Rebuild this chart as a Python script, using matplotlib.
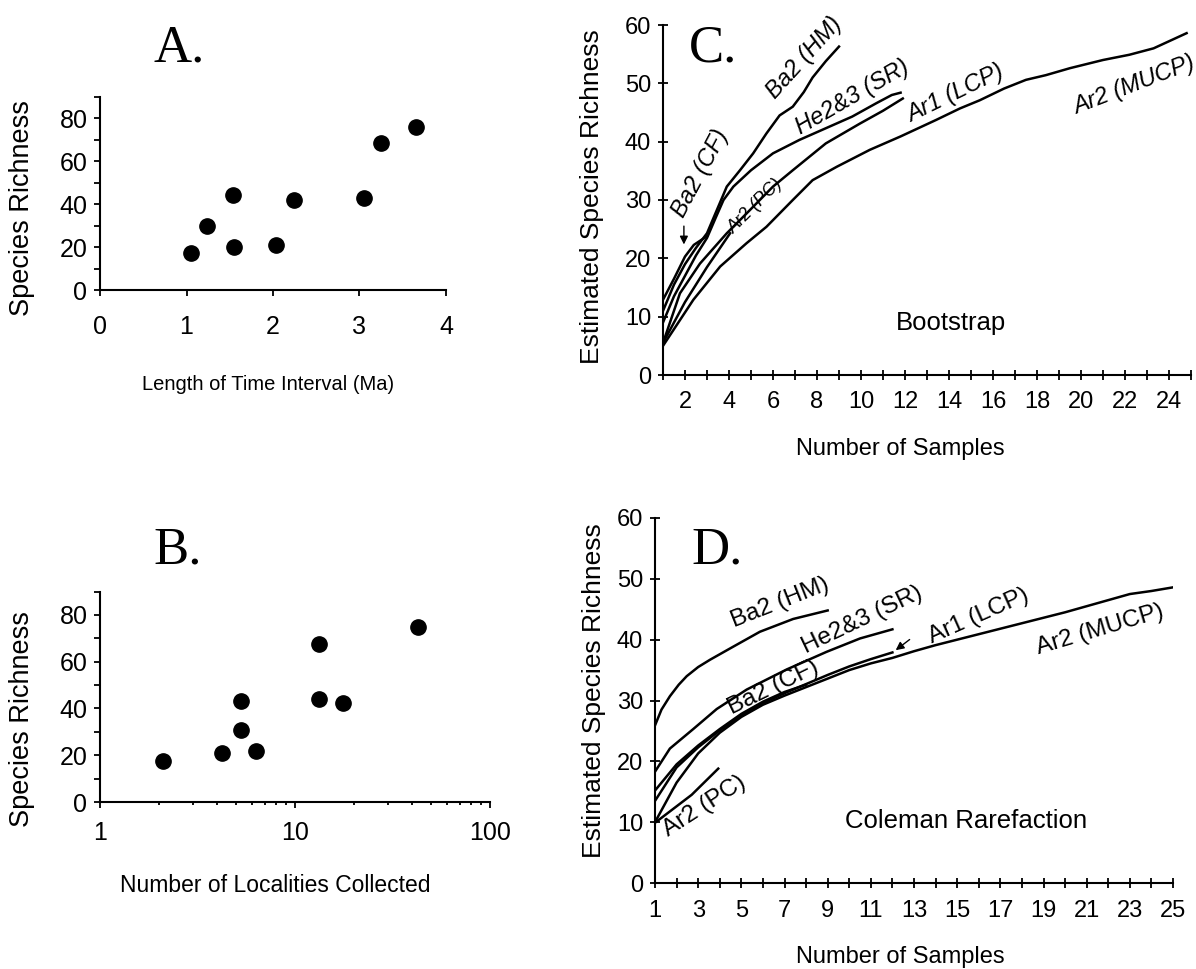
import numpy as np
import matplotlib
matplotlib.use("Agg")
import matplotlib.pyplot as plt
from matplotlib.ticker import MultipleLocator, NullFormatter

plt.rcParams['font.family'] = ['Liberation Sans', 'DejaVu Sans']

# ---- data ----
# A: species richness vs. length of time interval
a_interval = [1.05, 1.24, 1.54, 1.55, 2.04, 2.24, 3.05, 3.25, 3.65]
a_richness = [17, 30, 44, 20, 21, 42, 43, 68.5, 76]

# B: species richness vs. number of localities
b_localities = [2.11, 4.24, 5.28, 5.28, 6.31, 13.2, 13.3, 17.7, 42.6]
b_richness = [17.6, 20.9, 43, 30.6, 21.9, 44, 67.6, 42.3, 75]

# C: bootstrap curves
c_cf_x = [1, 1.5, 2, 2.4, 2.8, 3.0]
c_cf_y = [12.9, 16.5, 20.3, 22.3, 23.3, 23.8]
c_hm_x = [1, 1.5, 2, 2.5, 3, 3.45, 3.9, 4.5, 5.1, 5.7, 6.3, 6.9, 7.4, 7.8, 8.4, 9.0]
c_hm_y = [11.0, 15.5, 19.0, 21.8, 24.3, 28.3, 32.3, 35.1, 38.0, 41.4, 44.5, 46.0, 48.5, 51.0, 53.8, 56.3]
c_sr_x = [1, 1.5, 2, 2.5, 3, 3.4, 3.75, 4.2, 5, 6, 7.2, 8.4, 9.6, 10.7, 11.4, 11.8]
c_sr_y = [9.0, 13.5, 17.0, 20.5, 23.5, 27.0, 30.0, 32.3, 35.1, 38.0, 40.3, 42.3, 44.3, 46.6, 48.0, 48.4]
c_lcp_x = [1, 1.77, 2.68, 3.9, 4.8, 6.0, 6.9, 8.4, 9.95, 11.0, 11.9]
c_lcp_y = [5.5, 14.0, 19.1, 24.3, 27.7, 32.3, 35.1, 39.7, 43.1, 45.3, 47.4]
c_mucp_x = [1, 2.38, 3.6, 4.8, 5.7, 6.9, 7.8, 8.9, 10.4, 11.8, 13.4, 14.5, 15.4, 16.5,
            17.5, 18.4, 19.5, 21.0, 22.2, 23.3, 24.8]
c_mucp_y = [5.0, 12.9, 18.6, 22.6, 25.4, 30.0, 33.4, 35.7, 38.6, 40.9, 43.7, 45.7, 47.1, 49.1,
            50.6, 51.4, 52.6, 54.0, 54.9, 56.0, 58.6]
c_pc_x = [1, 2, 3, 4.05]
c_pc_y = [5.5, 12.5, 18.5, 24.3]

# D: Coleman rarefaction curves
d_hm_x = [1, 1.3, 1.69, 2.1, 2.47, 3, 3.55, 4.6, 5.86, 7.4, 9.0]
d_hm_y = [25.9, 28.5, 30.7, 32.6, 34.0, 35.5, 36.7, 38.8, 41.3, 43.4, 44.8]
d_sr_x = [1, 1.69, 2.77, 3.86, 5.25, 7.1, 8.95, 10.5, 12]
d_sr_y = [18.3, 22.1, 25.3, 28.6, 31.8, 35.1, 38.0, 40.2, 41.7]
d_cf_x = [1, 2, 3, 4, 5, 6, 7, 8]
d_cf_y = [15.2, 19.5, 22.6, 25.3, 27.8, 29.8, 31.4, 32.6]
d_lcp_x = [1, 2, 3, 4, 5, 6, 7, 8, 9, 10, 11, 12]
d_lcp_y = [13.5, 19.0, 22.3, 25.1, 27.6, 29.6, 31.2, 32.7, 34.2, 35.6, 36.8, 37.9]
d_mucp_x = list(range(1, 26))
d_mucp_y = [10.0, 16.5, 21.3, 24.7, 27.3, 29.3, 30.8, 32.2, 33.6, 35.0, 36.1, 37.0, 38.1,
            39.1, 40.0, 40.9, 41.8, 42.7, 43.6, 44.5, 45.5, 46.5, 47.5, 48.0, 48.6]
d_pc_x = [1, 2.7, 3.93]
d_pc_y = [9.9, 14.5, 18.8]

W, H = 1196, 969


def box(l, t, r, b):
    return [l / W, 1 - b / H, (r - l) / W, (b - t) / H]


def fpos(x, y):
    return x / W, 1 - y / H


fig = plt.figure(figsize=(W / 100, H / 100), dpi=100)

ax_a = fig.add_axes(box(100, 96.7, 446, 290))
ax_b = fig.add_axes(box(100, 591.6, 490, 802))
ax_c = fig.add_axes(box(663, 25, 1191, 375))
ax_d = fig.add_axes(box(655, 518, 1173, 883))

for ax in (ax_a, ax_b, ax_c, ax_d):
    for s in ('top', 'right'):
        ax.spines[s].set_visible(False)
    for s in ('left', 'bottom'):
        ax.spines[s].set_linewidth(1.5)
    ax.patch.set_visible(False)

# ---- A ----
ax_a.plot(a_interval, a_richness, 'o', color='black', ms=11)
ax_a.set_xlim(0, 4)
ax_a.set_ylim(0, 90)
ax_a.set_xticks([0, 1, 2, 3, 4])
ax_a.set_yticks([0, 20, 40, 60, 80])
ax_a.yaxis.set_minor_locator(MultipleLocator(10))
ax_a.tick_params(axis='both', which='both', direction='out', length=4, width=1.3, labelsize=18)
ax_a.tick_params(axis='x', pad=14)
ax_a.tick_params(axis='y', pad=5)

# ---- B ----
ax_b.plot(b_localities, b_richness, 'o', color='black', ms=11)
ax_b.set_xscale('log')
ax_b.set_xlim(1, 100)
ax_b.set_ylim(0, 90)
ax_b.set_xticks([1, 10, 100])
ax_b.set_xticklabels(['1', '10', '100'])
ax_b.xaxis.set_minor_formatter(NullFormatter())
ax_b.set_yticks([0, 20, 40, 60, 80])
ax_b.yaxis.set_minor_locator(MultipleLocator(10))
ax_b.tick_params(axis='both', which='both', direction='out', length=4, width=1.3, labelsize=18)
ax_b.tick_params(axis='x', which='minor', length=2.5)
ax_b.tick_params(axis='x', pad=10)
ax_b.tick_params(axis='y', pad=5)

# ---- C ----
for xs, ys in [(c_cf_x, c_cf_y), (c_hm_x, c_hm_y), (c_sr_x, c_sr_y),
               (c_lcp_x, c_lcp_y), (c_mucp_x, c_mucp_y), (c_pc_x, c_pc_y)]:
    ax_c.plot(xs, ys, color='black', lw=1.8)
ax_c.set_xlim(1, 25)
ax_c.set_ylim(0, 60)
ax_c.set_xticks(range(2, 25, 2))
ax_c.xaxis.set_minor_locator(MultipleLocator(1))
ax_c.set_yticks(range(0, 61, 10))
ax_c.tick_params(axis='both', which='both', direction='inout', length=7, width=1.3, labelsize=17)
ax_c.tick_params(axis='x', pad=8)
ax_c.tick_params(axis='y', pad=5)

c_labels = [
    ("Ba2 (HM)", 7.4, 54.4, 48, 17),
    ("He2&3 (SR)", 9.6, 47.6, 30, 17),
    ("Ar1 (LCP)", 14.3, 48.3, 26, 17),
    ("Ar2 (MUCP)", 22.4, 49.7, 21, 17),
    ("Ba2 (CF)", 2.68, 34.6, 62, 17),
    ("Ar2 (PC)", 5.2, 29.0, 45, 13),
]
for txt, x, y, rot, size in c_labels:
    ax_c.text(x, y, txt, rotation=rot, rotation_mode='anchor', ha='center', va='center',
              fontsize=size, style='italic', clip_on=False)
ax_c.annotate('', xy=(1.95, 21.9), xytext=(1.95, 26.0),
              arrowprops=dict(arrowstyle='-|>', color='black', lw=1, mutation_scale=12))
ax_c.text(14.1, 8.9, "Bootstrap", ha='center', va='center', fontsize=18.5)

# ---- D ----
for xs, ys in [(d_hm_x, d_hm_y), (d_sr_x, d_sr_y), (d_cf_x, d_cf_y),
               (d_lcp_x, d_lcp_y), (d_mucp_x, d_mucp_y), (d_pc_x, d_pc_y)]:
    ax_d.plot(xs, ys, color='black', lw=1.8)
ax_d.set_xlim(1, 25)
ax_d.set_ylim(0, 60)
ax_d.set_xticks(range(1, 26, 2))
ax_d.xaxis.set_minor_locator(MultipleLocator(1))
ax_d.set_yticks(range(0, 61, 10))
ax_d.tick_params(axis='both', which='both', direction='inout', length=7, width=1.3, labelsize=17)
ax_d.tick_params(axis='x', pad=9)
ax_d.tick_params(axis='y', pad=5)

d_labels = [
    ("Ba2 (HM)", 6.79, 46.0, 21.6),
    ("He2&3 (SR)", 10.6, 43.2, 25.5),
    ("Ar1 (LCP)", 16.0, 43.8, 24),
    ("Ar2 (MUCP)", 21.6, 41.7, 16.5),
    ("Ba2 (CF)", 6.5, 32.2, 26),
    ("Ar2 (PC)", 3.3, 12.6, 33),
]
for txt, x, y, rot in d_labels:
    ax_d.text(x, y, txt, rotation=rot, rotation_mode='anchor', ha='center', va='center',
              fontsize=17.5, clip_on=False)
ax_d.annotate('', xy=(12.05, 38.0), xytext=(12.9, 40.3),
              arrowprops=dict(arrowstyle='-|>', color='black', lw=1, mutation_scale=12))
ax_d.text(15.4, 10.2, "Coleman Rarefaction", ha='center', va='center', fontsize=18.5)

# ---- axis titles and panel letters ----
serif = ['Liberation Serif', 'DejaVu Serif']
fig.text(*fpos(153, 61), "A.", fontsize=38, family=serif, ha='left', va='baseline')
fig.text(*fpos(153, 563), "B.", fontsize=38, family=serif, ha='left', va='baseline')
fig.text(*fpos(689, 62), "C.", fontsize=38, family=serif, ha='left', va='baseline')
fig.text(*fpos(691, 564), "D.", fontsize=38, family=serif, ha='left', va='baseline')

fig.text(*fpos(22, 208), "Species Richness", rotation=90, ha='center', va='center', fontsize=19.5)
fig.text(*fpos(22, 719), "Species Richness", rotation=90, ha='center', va='center', fontsize=19.5)
fig.text(*fpos(592, 197), "Estimated Species Richness", rotation=90, ha='center', va='center', fontsize=19)
fig.text(*fpos(594, 691), "Estimated Species Richness", rotation=90, ha='center', va='center', fontsize=19)

fig.text(*fpos(268, 384), "Length of Time Interval (Ma)", ha='center', va='center', fontsize=14.5)
fig.text(*fpos(275, 885), "Number of Localities Collected", ha='center', va='center', fontsize=16.5)
fig.text(*fpos(900, 449), "Number of Samples", ha='center', va='center', fontsize=17)
fig.text(*fpos(900, 957), "Number of Samples", ha='center', va='center', fontsize=17)

fig.savefig("out.png", dpi=100)
